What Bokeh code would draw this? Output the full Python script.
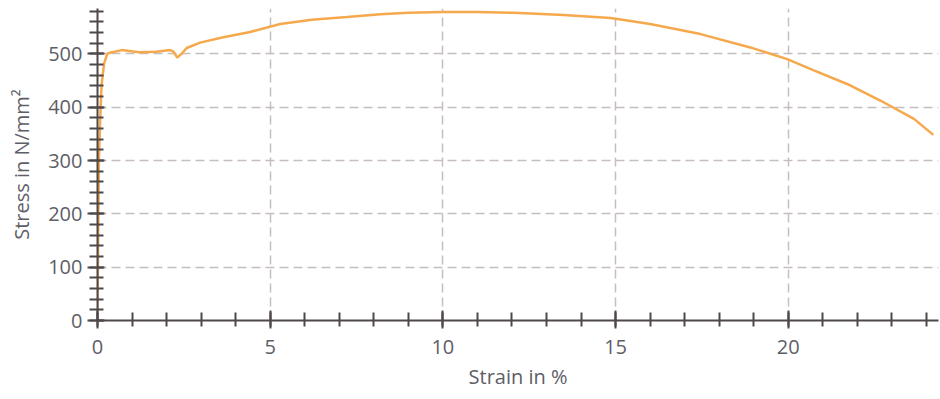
from bokeh.plotting import figure
from bokeh.models import Range1d, FixedTicker
from bokeh.embed import file_html
from bokeh.resources import INLINE

strain = [0, 0.04, 0.09, 0.12, 0.19, 0.28, 0.36, 0.7, 1.2, 1.7, 2.1, 2.2, 2.31, 2.45, 2.58, 2.97, 3.64,
          4.42, 5.29, 6.2, 7.22, 8.19, 9.0, 10.0, 11.0, 12.05, 13.5, 14.86, 16.0, 17.46, 18.9, 19.97,
          20.74, 21.72, 22.68, 23.64, 24.2]
stress = [20, 300, 400, 443, 481, 500, 502, 507, 503, 504, 507, 504, 493, 501, 511, 521, 531,
          541, 556, 564, 569, 574, 577, 578.5, 578.5, 577, 573, 567, 556, 537, 512, 490,
          469, 443, 412, 378, 348]

x_major = [0, 5, 10, 15, 20]
y_major = [0, 100, 200, 300, 400, 500]

FONT = "Open Sans"
AXIS_COL = "#4f4848"
TEXT_COL = "#5e5e66"
GRID_COL = "#c6bebe"

p = figure(width=940, height=399, output_backend="svg", toolbar_location=None,
           x_range=Range1d(0, 24.35), y_range=Range1d(0, 585),
           min_border_left=97, min_border_right=2, min_border_top=8, min_border_bottom=79)
p.outline_line_color = None
p.background_fill_color = "white"

p.line(strain, stress, line_color="#f6a84c", line_width=2.5)

for ax in (p.xaxis[0], p.yaxis[0]):
    ax.axis_line_color = AXIS_COL
    ax.axis_line_width = 2
    ax.major_tick_line_color = AXIS_COL
    ax.minor_tick_line_color = AXIS_COL
    ax.major_tick_line_width = 2
    ax.minor_tick_line_width = 2
    ax.major_label_text_font = FONT
    ax.major_label_text_color = TEXT_COL
    ax.major_label_text_font_size = "20px"
    ax.axis_label_text_font = FONT
    ax.axis_label_text_color = TEXT_COL
    ax.axis_label_text_font_size = "20px"
    ax.axis_label_text_font_style = "normal"

p.xaxis.ticker = FixedTicker(ticks=x_major, minor_ticks=list(range(0, 25)))
p.yaxis.ticker = FixedTicker(ticks=y_major, minor_ticks=list(range(0, 581, 20)))
p.xaxis.major_tick_in = 10
p.xaxis.major_tick_out = 8
p.xaxis.minor_tick_in = 8
p.xaxis.minor_tick_out = 6
p.yaxis.major_tick_in = 7
p.yaxis.major_tick_out = 10
p.yaxis.minor_tick_in = 6
p.yaxis.minor_tick_out = 8
p.xaxis.major_label_standoff = 11
p.yaxis.major_label_standoff = 5
p.xaxis.axis_label = "Strain in %"
p.yaxis.axis_label = "Stress in N/mm²"
p.xaxis.axis_label_standoff = 6
p.yaxis.axis_label_standoff = 10

p.xgrid.ticker = FixedTicker(ticks=[5, 10, 15, 20])
p.ygrid.ticker = FixedTicker(ticks=[100, 200, 300, 400, 500])
for g in (p.xgrid[0], p.ygrid[0]):
    g.grid_line_color = GRID_COL
    g.grid_line_width = 1.5
    g.grid_line_dash = "9 5"

open("out.html", "w").write(file_html(p, INLINE))
